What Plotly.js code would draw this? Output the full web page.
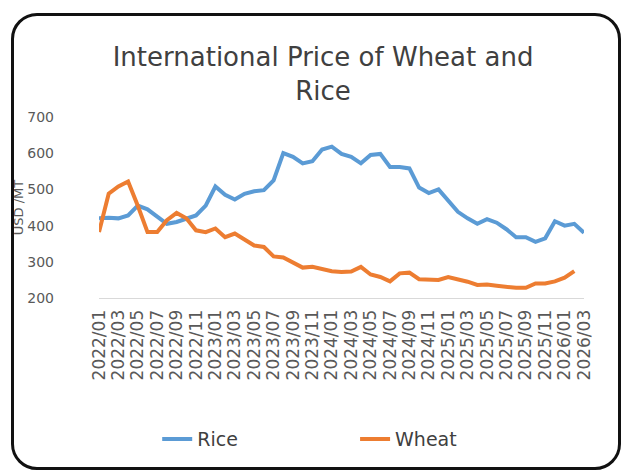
<!DOCTYPE html>
<html>
<head>
<meta charset="utf-8">
<script src="https://cdn.plot.ly/plotly-3.0.1.min.js"></script>
<style>
  html, body { margin: 0; padding: 0; background: #fff; }
  #wrap { position: relative; width: 627px; height: 470px; }
  #chart { width: 627px; height: 470px; }
  #frame { position: absolute; left: 11px; top: 13px; width: 604px; height: 451px;
           border: 3px solid #111; border-radius: 26px; pointer-events: none; }
</style>
</head>
<body>
<div id="wrap">
  <div id="chart"></div>
  <div id="frame"></div>
</div>
<script>
const months = [
  "2022/01","2022/02","2022/03","2022/04","2022/05","2022/06","2022/07","2022/08","2022/09","2022/10","2022/11","2022/12",
  "2023/01","2023/02","2023/03","2023/04","2023/05","2023/06","2023/07","2023/08","2023/09","2023/10","2023/11","2023/12",
  "2024/01","2024/02","2024/03","2024/04","2024/05","2024/06","2024/07","2024/08","2024/09","2024/10","2024/11","2024/12",
  "2025/01","2025/02","2025/03","2025/04","2025/05","2025/06","2025/07","2025/08","2025/09","2025/10","2025/11","2025/12",
  "2026/01","2026/02","2026/03"
];
const rice = [
  420, 422, 420, 428, 455, 445, 425, 405, 410, 420, 428, 455,
  508, 485, 472, 488, 495, 498, 525, 600, 590, 572, 578, 610,
  618, 598, 590, 572, 595, 598, 562, 562, 558, 505, 490, 500,
  468, 438, 420, 405, 418, 408, 390, 368, 368, 355, 365, 412,
  400, 405, 380
];
const wheat = [
  382, 488, 508, 522, 455, 382, 382, 415, 435, 420, 387, 382,
  392, 368, 378, 362, 345, 341, 315, 312, 298, 284, 286, 280,
  274, 272, 273, 286, 265, 258, 246, 268, 270, 252, 250, 250,
  258, 252, 245, 236, 237, 234, 230, 228, 228, 240, 240, 246,
  256, 274, null
];
const tickLabels = months.filter((m, i) => i % 2 === 0);

const traces = [
  { x: months, y: rice, name: "Rice", type: "scatter", mode: "lines", legend: "legend",
    line: { color: "#5B9BD5", width: 4 } },
  { x: months, y: wheat, name: "Wheat", type: "scatter", mode: "lines", legend: "legend2",
    line: { color: "#ED7D31", width: 4 } }
];

const legendFont = { size: 19, color: "#404040" };
const layout = {
  width: 627, height: 470,
  margin: { l: 99, r: 43, t: 117, b: 172, autoexpand: false },
  paper_bgcolor: "#fff", plot_bgcolor: "#fff",
  font: { family: "DejaVu Sans, sans-serif", color: "#595959" },
  title: { text: "International Price of Wheat and<br>Rice",
           font: { size: 26, color: "#404040", family: "DejaVu Sans, sans-serif" },
           x: 0.462, xanchor: "center", xref: "paper",
           yref: "container", y: 0.86, yanchor: "middle" },
  xaxis: { type: "category", tickmode: "array", tickvals: tickLabels, ticktext: tickLabels,
           tickangle: -90, tickfont: { size: 17, color: "#595959" }, ticklabelstandoff: 4,
           showgrid: false, showline: true, linecolor: "#d9d9d9", linewidth: 1,
           ticks: "", zeroline: false, fixedrange: true, automargin: false },
  yaxis: { range: [200, 700], dtick: 100, showgrid: false, zeroline: false,
           showline: false, ticks: "", ticklabelstandoff: 44, automargin: false,
           tickfont: { size: 14, color: "#595959" },
           title: { text: "USD /MT", font: { size: 13, color: "#595959" }, standoff: 0 } },
  showlegend: true,
  legend: { orientation: "h", x: 0.12, xanchor: "left", y: -0.78, yanchor: "middle",
            font: legendFont },
  legend2: { orientation: "h", x: 0.528, xanchor: "left", y: -0.78, yanchor: "middle",
            font: legendFont }
};

Plotly.newPlot("chart", traces, layout, { displayModeBar: false, staticPlot: true });
</script>
</body>
</html>
